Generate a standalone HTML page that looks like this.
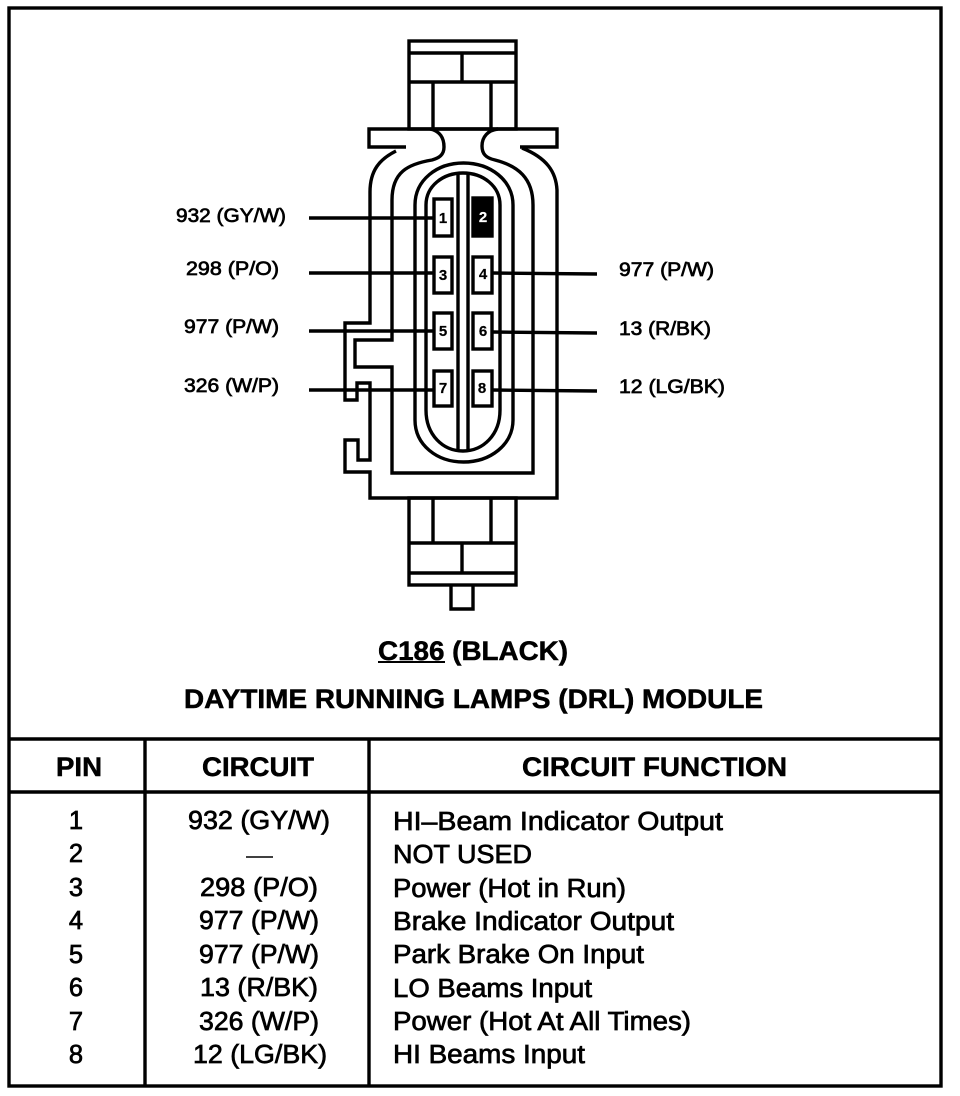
<!DOCTYPE html>
<html><head><meta charset="utf-8">
<style>
html,body{margin:0;padding:0;background:#fff;width:960px;height:1096px;overflow:hidden}
svg{display:block}
text{font-family:"Liberation Sans",sans-serif;fill:#000;stroke:#000;stroke-width:.7px}
.d path,.d line,.d rect{fill:none;stroke:#000;stroke-width:3.4}
.h{font-size:27px;font-weight:bold;stroke-width:.5px}
.r{font-size:25.5px}
.s{font-size:19px}
.p{font-size:15px;font-weight:bold;text-anchor:middle;stroke-width:.2px}
</style></head><body>
<svg width="960" height="1096" viewBox="0 0 960 1096" xmlns="http://www.w3.org/2000/svg">
<g class="d">
<rect x="9" y="8" width="932" height="1078"/>
<line x1="9" y1="739" x2="941" y2="739"/>
<line x1="9" y1="792" x2="941" y2="792"/>
<line x1="145" y1="739" x2="145" y2="1086"/>
<line x1="369" y1="739" x2="369" y2="1086"/>

<!-- top connector -->
<rect x="409" y="41" width="107" height="88"/>
<line x1="409" y1="53" x2="516" y2="53"/>
<line x1="409" y1="82" x2="516" y2="82"/>
<line x1="462" y1="53" x2="462" y2="82"/>
<line x1="433" y1="82" x2="433" y2="129"/>
<line x1="491" y1="82" x2="491" y2="129"/>

<!-- flange + body outer -->
<path d="M406 147 L369 147 L369 129 L557 129 L557 147 L520 147"/>
<path d="M396 151 C380 159 370 170 370 192 L370 323 L345 323 L345 400 L357 400 L357 383 L370 383 L370 460 L358 460 L358 440 L345 440 L345 472 L370 472 L370 498 L557 498 L557 190 C556 172 547 158 522 148"/>
<!-- inner body with hooks -->
<path d="M430 129 C440 131 444 138 444 147 C444 155 439 158 432 160 C408 164 392 172 392 200 L392 340 L355 340 L355 367 L392 367 L392 473 L533 473 L533 205 C533 178 518 166 495 160 C486 158 482 154 482 146 C482 137 488 130 498 129"/>

<!-- ovals -->
<path d="M415 205 C415 180 437 163 463.500 163 C490 163 513 180 513 205 L513 420 C513 445 490 462 463.500 462 C437 462 415 445 415 420 Z"/>
<path d="M426 205 C426 186 443 173 463 173 C483 173 500 186 500 205 L500 410 C500 435 483 451 463 451 C443 451 426 435 426 410 Z"/>
<line x1="458" y1="173" x2="458" y2="451"/>
<line x1="468" y1="173" x2="468" y2="451"/>

<!-- pins -->
<rect x="434" y="199" width="18" height="37" style="fill:#fff"/>
<rect x="473" y="198" width="19" height="38" style="fill:#000"/>
<rect x="434" y="257" width="18" height="36" style="fill:#fff"/>
<rect x="473" y="257" width="19" height="36" style="fill:#fff"/>
<rect x="434" y="313" width="18" height="36" style="fill:#fff"/>
<rect x="473" y="313" width="19" height="36" style="fill:#fff"/>
<rect x="434" y="371" width="18" height="35" style="fill:#fff"/>
<rect x="473" y="371" width="19" height="35" style="fill:#fff"/>

<!-- leaders -->
<line x1="309" y1="218" x2="434" y2="218"/>
<line x1="309" y1="273" x2="434" y2="273"/>
<line x1="309" y1="331" x2="434" y2="331"/>
<line x1="309" y1="390" x2="434" y2="390"/>
<line x1="492" y1="273" x2="597" y2="274"/>
<line x1="492" y1="332" x2="597" y2="333"/>
<line x1="492" y1="390" x2="597" y2="391"/>

<!-- bottom connector -->
<rect x="409" y="498" width="107" height="87"/>
<line x1="409" y1="543" x2="516" y2="543"/>
<line x1="409" y1="573" x2="516" y2="573"/>
<line x1="462" y1="543" x2="462" y2="573"/>
<line x1="433" y1="498" x2="433" y2="543"/>
<line x1="491" y1="498" x2="491" y2="543"/>
<path d="M451 585 L451 609 L473 609 L473 585"/>
<line x1="378" y1="662" x2="445" y2="662" style="stroke-width:2"/>
<line x1="246" y1="857" x2="273" y2="857" style="stroke-width:1.500"/>
</g>

<!-- pin numbers -->
<text class="p" x="443" y="223">1</text>
<text class="p" x="483" y="222" style="fill:#fff;stroke:#fff">2</text>
<text class="p" x="443" y="280">3</text>
<text class="p" x="483" y="279">4</text>
<text class="p" x="443" y="336">5</text>
<text class="p" x="483" y="336">6</text>
<text class="p" x="443" y="393">7</text>
<text class="p" x="482" y="393">8</text>

<!-- side labels -->
<text class="s" x="176" y="222" textLength="110" lengthAdjust="spacingAndGlyphs">932 (GY/W)</text>
<text class="s" x="186" y="275" textLength="93" lengthAdjust="spacingAndGlyphs">298 (P/O)</text>
<text class="s" x="184" y="333" textLength="95" lengthAdjust="spacingAndGlyphs">977 (P/W)</text>
<text class="s" x="184" y="392" textLength="95" lengthAdjust="spacingAndGlyphs">326 (W/P)</text>
<text class="s" x="619" y="276" textLength="95" lengthAdjust="spacingAndGlyphs">977 (P/W)</text>
<text class="s" x="619" y="335" textLength="92" lengthAdjust="spacingAndGlyphs">13 (R/BK)</text>
<text class="s" x="619" y="393" textLength="106" lengthAdjust="spacingAndGlyphs">12 (LG/BK)</text>

<!-- titles -->
<text class="h" x="378" y="660" textLength="190" lengthAdjust="spacingAndGlyphs">C186 (BLACK)</text>
<text class="h" x="184" y="708" textLength="579" lengthAdjust="spacingAndGlyphs">DAYTIME RUNNING LAMPS (DRL) MODULE</text>
<text class="h" x="56" y="776" textLength="46" lengthAdjust="spacingAndGlyphs">PIN</text>
<text class="h" x="202" y="776" textLength="112" lengthAdjust="spacingAndGlyphs">CIRCUIT</text>
<text class="h" x="522" y="776" textLength="265" lengthAdjust="spacingAndGlyphs">CIRCUIT FUNCTION</text>

<!-- pin col -->
<g class="r" text-anchor="middle">
<text x="76" y="829">1</text>
<text x="76" y="862">2</text>
<text x="76" y="896">3</text>
<text x="76" y="929">4</text>
<text x="76" y="963">5</text>
<text x="76" y="996">6</text>
<text x="76" y="1030">7</text>
<text x="76" y="1063">8</text>
</g>

<!-- circuit col -->
<g class="r">
<text x="188" y="829" textLength="142" lengthAdjust="spacingAndGlyphs">932 (GY/W)</text>
<text x="200" y="896" textLength="118" lengthAdjust="spacingAndGlyphs">298 (P/O)</text>
<text x="199" y="929" textLength="120" lengthAdjust="spacingAndGlyphs">977 (P/W)</text>
<text x="199" y="963" textLength="120" lengthAdjust="spacingAndGlyphs">977 (P/W)</text>
<text x="200" y="996" textLength="118" lengthAdjust="spacingAndGlyphs">13 (R/BK)</text>
<text x="199" y="1030" textLength="120" lengthAdjust="spacingAndGlyphs">326 (W/P)</text>
<text x="193" y="1063" textLength="134" lengthAdjust="spacingAndGlyphs">12 (LG/BK)</text>
</g>

<!-- function col -->
<g class="r">
<text x="393" y="830" textLength="330" lengthAdjust="spacingAndGlyphs">HI–Beam Indicator Output</text>
<text x="393" y="863" textLength="139" lengthAdjust="spacingAndGlyphs">NOT USED</text>
<text x="393" y="897" textLength="233" lengthAdjust="spacingAndGlyphs">Power (Hot in Run)</text>
<text x="393" y="930" textLength="281" lengthAdjust="spacingAndGlyphs">Brake Indicator Output</text>
<text x="393" y="963" textLength="251" lengthAdjust="spacingAndGlyphs">Park Brake On Input</text>
<text x="393" y="997" textLength="199" lengthAdjust="spacingAndGlyphs">LO Beams Input</text>
<text x="393" y="1030" textLength="298" lengthAdjust="spacingAndGlyphs">Power (Hot At All Times)</text>
<text x="393" y="1063" textLength="192" lengthAdjust="spacingAndGlyphs">HI Beams Input</text>
</g>
</svg>
</body></html>
